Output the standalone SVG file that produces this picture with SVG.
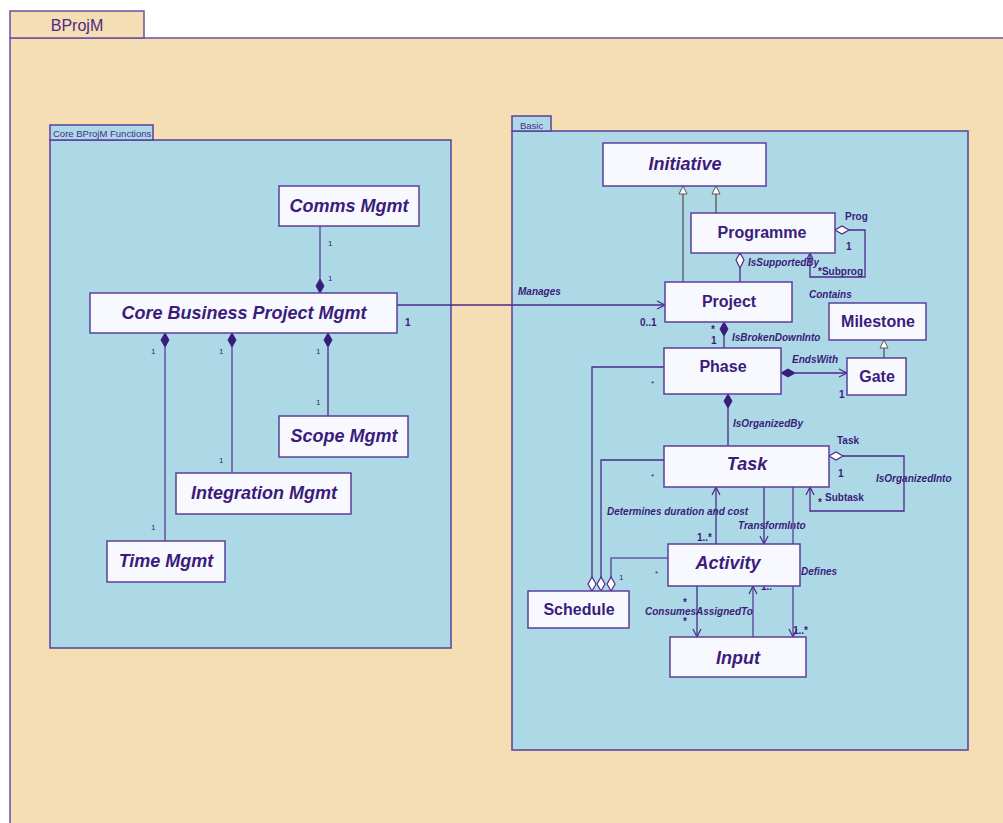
<svg xmlns="http://www.w3.org/2000/svg" width="1003" height="823" viewBox="0 0 1003 823">
<style>
.pkg{fill:#f5deb3;stroke:#6a4fa8;stroke-width:1.5}
.sub{fill:#add8e6;stroke:#5b3f9c;stroke-width:1.5}
.node{fill:#f8f8ff;stroke:#5b3f9c;stroke-width:1.5}
.t{font-family:"Liberation Sans",Arial,sans-serif;fill:#3b1c7c}
.nm{font-size:16px;font-weight:bold;text-anchor:middle}
.nmi{font-size:18px;font-weight:bold;font-style:italic;text-anchor:middle}
.lb{font-size:10px;font-weight:bold;font-style:italic}
.mb{font-size:10px;font-weight:bold}
.ms{font-size:8px}
.pl{font-family:"Liberation Sans",Arial,sans-serif;fill:#4b2a8a}
.c{fill:none;stroke:#4b2a8a;stroke-width:1.3}
.cl{fill:none;stroke:#6a5aa8;stroke-width:1.6}
.fd{fill:#3b1c7c;stroke:#3b1c7c;stroke-width:1}
.hd{fill:#ffffff;stroke:#4b2a8a;stroke-width:1.2}
.tri{fill:#ffffff;stroke:#555555;stroke-width:1}
.arr{fill:none;stroke:#4b2a8a;stroke-width:1.2}
</style>

<g id="pkg-bprojm">
<rect class="pkg" x="10" y="38" width="1000" height="800"/>
<rect class="pkg" x="10" y="11" width="134" height="27"/>
<text class="pl" x="77" y="31" font-size="16" text-anchor="middle">BProjM</text>
</g>

<g id="pkg-core">
<rect class="sub" x="50" y="140" width="401" height="508"/>
<rect class="sub" x="50" y="125" width="103" height="15"/>
<text class="pl" x="53" y="137" font-size="9.5">Core BProjM Functions</text>
</g>

<g id="pkg-basic">
<rect class="sub" x="512" y="131" width="456" height="619"/>
<rect class="sub" x="512" y="116" width="39" height="15"/>
<text class="pl" x="520" y="129" font-size="9.5">Basic</text>
</g>

<g id="connectors">
<!-- left package -->
<line class="cl" x1="320" y1="226" x2="320" y2="280"/>
<polygon class="fd" points="320,293 324,286 320,279 316,286"/>
<text class="t ms" x="328" y="246">1</text>
<text class="t ms" x="328" y="281">1</text>

<line class="cl" x1="165" y1="347" x2="165" y2="541"/>
<polygon class="fd" points="165,333 169,340 165,347 161,340"/>
<text class="t ms" x="151" y="354">1</text>
<text class="t ms" x="151" y="530">1</text>

<line class="cl" x1="232" y1="347" x2="232" y2="473"/>
<polygon class="fd" points="232,333 236,340 232,347 228,340"/>
<text class="t ms" x="219" y="354">1</text>
<text class="t ms" x="219" y="463">1</text>

<line class="c" x1="328" y1="347" x2="328" y2="416"/>
<polygon class="fd" points="328,333 332,340 328,347 324,340"/>
<text class="t ms" x="316" y="354">1</text>
<text class="t ms" x="316" y="405">1</text>

<!-- Manages -->
<line class="c" x1="397" y1="305" x2="665" y2="305"/>
<polyline class="arr" points="657,301 665,305 657,309"/>
<text class="t lb" x="518" y="295">Manages</text>
<text class="t mb" x="405" y="326">1</text>
<text class="t mb" x="640" y="326">0..1</text>

<!-- generalizations to Initiative -->
<line x1="683" y1="282" x2="683" y2="194" stroke="#555" stroke-width="1.3"/>
<polygon class="tri" points="683,186 687,194 679,194"/>
<line x1="716" y1="213" x2="716" y2="194" stroke="#555" stroke-width="1.3"/>
<polygon class="tri" points="716,186 720,194 712,194"/>

<!-- IsSupportedBy -->
<line class="c" x1="740" y1="268" x2="740" y2="282"/>
<polygon class="hd" points="740,253 744,260 740,268 736,260"/>
<text class="t lb" x="748" y="266">IsSupportedBy</text>

<!-- Programme self loop -->
<polygon class="hd" points="835,230 842,226 849,230 842,234"/>
<polyline class="c" points="849,230 865,230 865,277 810,277 810,253"/>
<polyline class="arr" points="807,259 810,253 813,259"/>
<text class="t mb" x="845" y="220">Prog</text>
<text class="t mb" x="846" y="250">1</text>
<text class="t mb" x="818" y="275">*Subprog</text>

<!-- Contains label -->
<text class="t lb" x="809" y="298">Contains</text>

<!-- IsBrokenDownInto -->
<line class="c" x1="724" y1="336" x2="724" y2="348"/>
<polygon class="fd" points="724,322 728,329 724,336 720,329"/>
<text class="t mb" x="711" y="333">*</text>
<text class="t mb" x="711" y="344">1</text>
<text class="t lb" x="732" y="341">IsBrokenDownInto</text>

<!-- Gate -> Milestone -->
<line x1="884" y1="358" x2="884" y2="348" stroke="#555" stroke-width="1.3"/>
<polygon class="tri" points="884,340 888,348 880,348"/>

<!-- EndsWith -->
<polygon class="fd" points="781,373 788,369 795,373 788,377"/>
<line class="c" x1="795" y1="373" x2="847" y2="373"/>
<polyline class="arr" points="839,369 847,373 839,377"/>
<text class="t lb" x="792" y="363">EndsWith</text>
<text class="t mb" x="839" y="398">1</text>

<!-- IsOrganizedBy -->
<polygon class="fd" points="728,394 732,401 728,408 724,401"/>
<line class="c" x1="728" y1="408" x2="728" y2="446"/>
<text class="t lb" x="733" y="427">IsOrganizedBy</text>

<!-- Task self loop -->
<polygon class="hd" points="829,456 836,452 843,456 836,460"/>
<polyline class="c" points="843,456 904,456 904,511 810,511 810,487"/>
<polyline class="arr" points="806,495 810,487 814,495"/>
<text class="t mb" x="837" y="444">Task</text>
<text class="t mb" x="838" y="477">1</text>
<text class="t lb" x="876" y="482">IsOrganizedInto</text>
<text class="t mb" x="818" y="506">*</text>
<text class="t mb" x="825" y="501">Subtask</text>

<!-- Schedule aggregations -->
<polyline class="c" points="592,577 592,367 664,367"/>
<polyline class="c" points="601,577 601,460 664,460"/>
<polyline class="cl" points="611,577 611,558 668,558"/>
<polygon class="hd" points="592,591 596,584 592,577 588,584"/>
<polygon class="hd" points="601,591 605,584 601,577 597,584"/>
<polygon class="hd" points="611,591 615,584 611,577 607,584"/>
<text class="t ms" x="651" y="386">*</text>
<text class="t ms" x="651" y="479">*</text>
<text class="t ms" x="655" y="576">*</text>
<text class="t ms" x="619" y="580">1</text>

<!-- Determines duration and cost -->
<line class="c" x1="716" y1="544" x2="716" y2="487"/>
<polyline class="arr" points="712,495 716,487 720,495"/>
<text class="t lb" x="607" y="515">Determines duration and cost</text>
<text class="t mb" x="697" y="541">1..*</text>

<!-- TransformInto -->
<line class="c" x1="764" y1="487" x2="764" y2="544"/>
<polyline class="arr" points="760,536 764,544 768,536"/>
<text class="t lb" x="738" y="529">TransformInto</text>

<!-- Defines -->
<line class="cl" x1="793" y1="487" x2="793" y2="637"/>
<polyline class="arr" points="789,629 793,637 797,629"/>
<text class="t lb" x="801" y="575">Defines</text>
<text class="t mb" x="793" y="634">1..*</text>

<!-- Consumes -->
<line class="c" x1="697" y1="586" x2="697" y2="637"/>
<polyline class="arr" points="693,629 697,637 701,629"/>
<text class="t mb" x="683" y="606">*</text>
<text class="t mb" x="683" y="625">*</text>
<text class="t lb" x="645" y="615">Consumes</text>

<!-- AssignedTo -->
<line class="cl" x1="753" y1="637" x2="753" y2="586"/>
<polyline class="arr" points="749,594 753,586 757,594"/>
<text class="t lb" x="696" y="615">AssignedTo</text>
<text class="t mb" x="761" y="590">1..*</text>
</g>

<g id="node-comms"><rect class="node" x="279" y="186" width="140" height="40"/><text class="t nmi" x="349" y="212">Comms Mgmt</text></g>
<g id="node-core"><rect class="node" x="90" y="293" width="307" height="40"/><text class="t nmi" x="244" y="319">Core Business Project Mgmt</text></g>
<g id="node-scope"><rect class="node" x="279" y="416" width="129" height="41"/><text class="t nmi" x="344" y="442">Scope Mgmt</text></g>
<g id="node-integration"><rect class="node" x="176" y="473" width="175" height="41"/><text class="t nmi" x="264" y="499">Integration Mgmt</text></g>
<g id="node-time"><rect class="node" x="107" y="541" width="118" height="41"/><text class="t nmi" x="166" y="567">Time Mgmt</text></g>

<g id="node-initiative"><rect class="node" x="603" y="143" width="163" height="43"/><text class="t nmi" x="685" y="170">Initiative</text></g>
<g id="node-programme"><rect class="node" x="691" y="213" width="144" height="40"/><text class="t nm" x="762" y="238">Programme</text></g>
<g id="node-project"><rect class="node" x="665" y="282" width="127" height="40"/><text class="t nm" x="729" y="307">Project</text></g>
<g id="node-milestone"><rect class="node" x="829" y="303" width="97" height="37"/><text class="t nm" x="878" y="327">Milestone</text></g>
<g id="node-phase"><rect class="node" x="664" y="348" width="117" height="46"/><text class="t nm" x="723" y="372">Phase</text></g>
<g id="node-gate"><rect class="node" x="847" y="358" width="59" height="37"/><text class="t nm" x="877" y="382">Gate</text></g>
<g id="node-task"><rect class="node" x="664" y="446" width="165" height="41"/><text class="t nmi" x="747" y="470" font-size="17">Task</text></g>
<g id="node-activity"><rect class="node" x="668" y="544" width="132" height="42"/><text class="t nmi" x="728" y="569" font-size="17">Activity</text></g>
<g id="node-schedule"><rect class="node" x="528" y="591" width="101" height="37"/><text class="t nm" x="579" y="615">Schedule</text></g>
<g id="node-input"><rect class="node" x="670" y="637" width="136" height="40"/><text class="t nmi" x="738" y="664">Input</text></g>
</svg>
